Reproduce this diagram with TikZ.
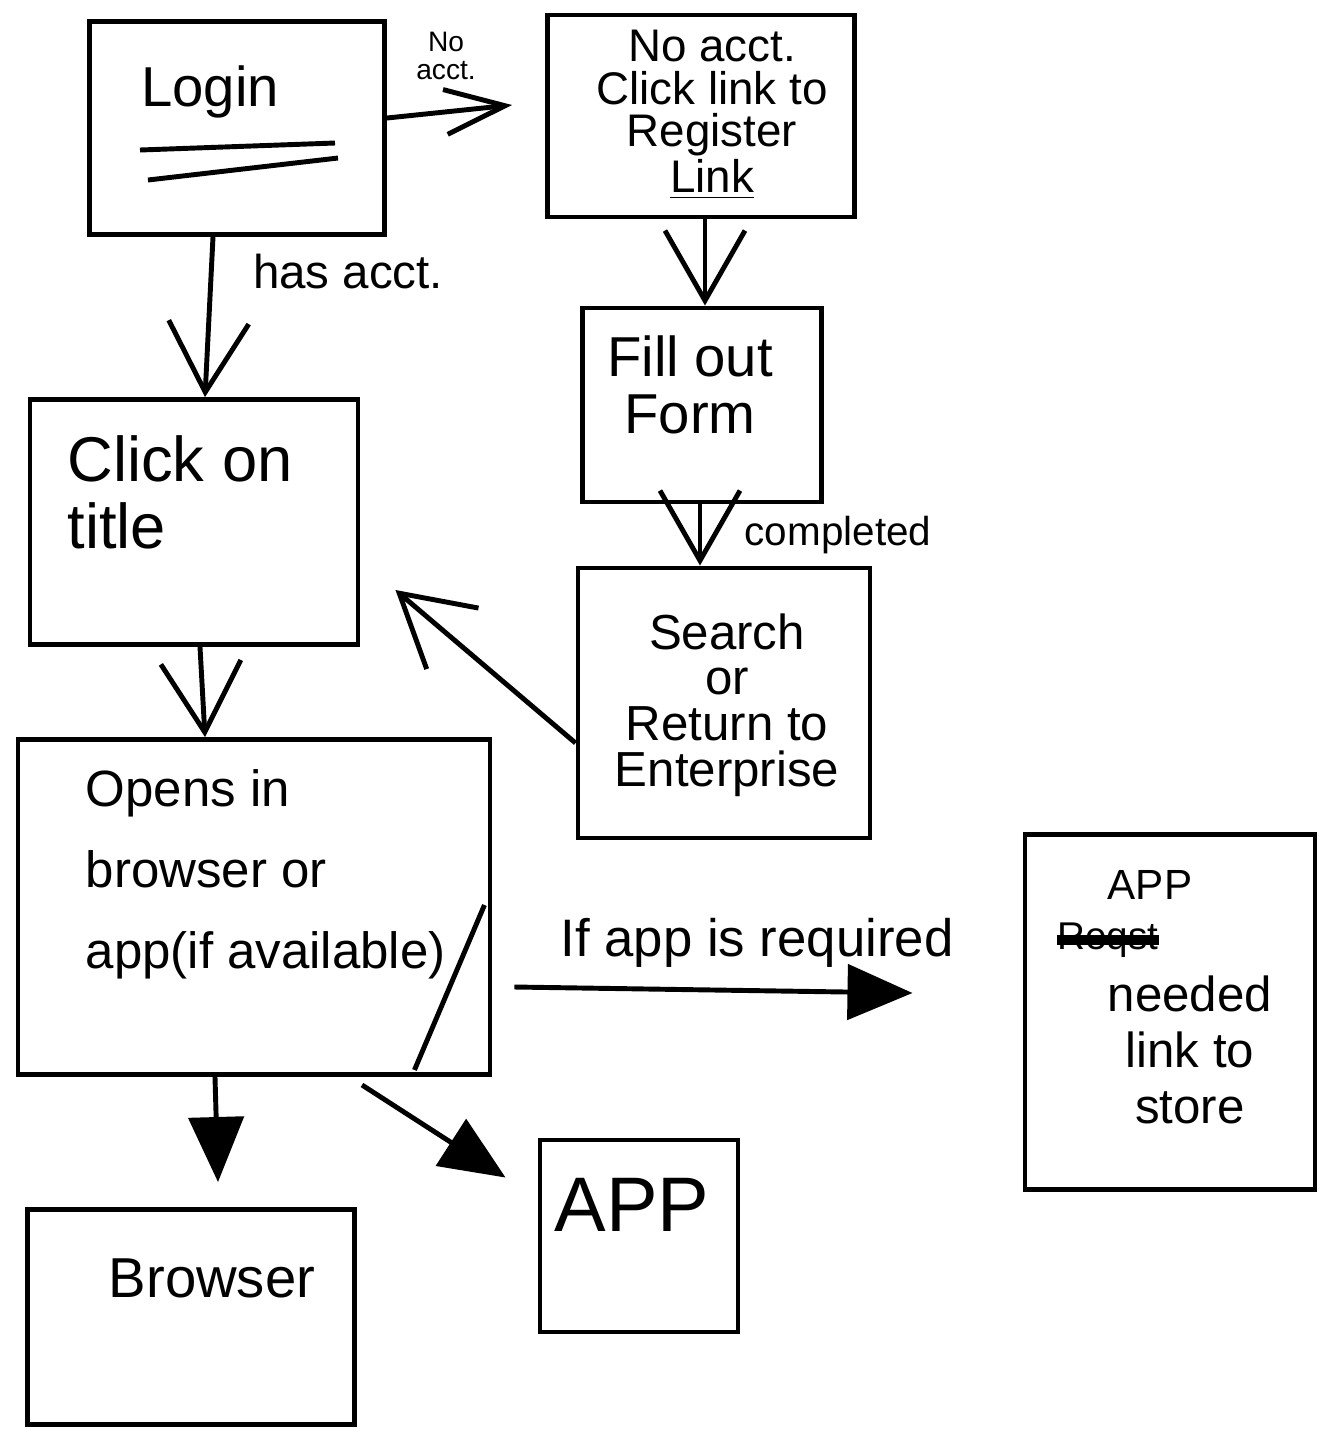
\documentclass[tikz,border=0pt]{standalone}
\usepackage{fontspec}
\setmainfont{Liberation Sans}
\usetikzlibrary{arrows.meta,calc}
\newcommand{\pxsize}{0.01cm}
\newcommand{\sketchbox}[5]{
	\node[box, minimum width=#4*\pxsize, minimum height=#5*\pxsize] (#1) at (#2,#3) {};
}

\begin{document}
\begin{tikzpicture}[x=\pxsize,y=-\pxsize,
	box/.style={draw, line width=1.4pt, inner sep=0pt},
	pen/.style={line width=1.4pt},
	vee/.style={pen, -{Straight Barb[length=7mm,width=8mm]}},
	smallvee/.style={pen, -{Straight Barb[length=6mm,width=4.5mm]}},
	solidhead/.style={pen, -{Triangle[length=6.5mm,width=5.5mm]}},
	txt/.style={inner sep=0pt, align=center}]
	\useasboundingbox (0,0) rectangle (1326,1429);

	\sketchbox{login}{237}{128}{295}{213}
	\sketchbox{register}{701}{116}{307}{202}
	\sketchbox{form}{702}{405}{239}{194}
	\sketchbox{search}{724}{703}{292}{270}
	\sketchbox{title}{194}{522}{328}{245}
	\sketchbox{opens}{254}{907}{472}{335}
	\sketchbox{appneed}{1170}{1012}{290}{355}
	\sketchbox{app}{639}{1236}{198}{192}
	\sketchbox{browser}{191}{1317}{327}{215}

	\node[txt, font=\fontsize{16}{19}\selectfont] (logintext) at (210,92) {Login};
	\draw[pen] (140,150) -- (335,143);
	\draw[pen] (148,180) -- (338,158);

	\node[txt, font=\fontsize{13}{12}\selectfont] (registertext) at (712,115) {No acct.\\Click link to\\Register\\\underline{Link}};
	\node[txt, font=\fontsize{16}{16}\selectfont] (formtext) at (690,385) {Fill out\\Form};
	\node[txt, font=\fontsize{14}{13}\selectfont] (searchtext) at (727,705) {Search\\or\\Return to\\Enterprise};
	\node[txt, align=left, font=\fontsize{18}{19}\selectfont] (titletext) at (180,492) {Click on\\title};
	\node[txt, align=left, anchor=west, font=\fontsize{14.5}{23}\selectfont] (openstext) at (85,874) {Opens in\\browser or\\app(if available)};
	\draw[pen] ($(opens.east)+(-8,-2)$) -- ($(opens.south east)+(-78,-7)$);

	\node[txt, font=\fontsize{12}{14}\selectfont] (appword) at (1150,885) {APP};
	\node[txt, font=\fontsize{11}{13}\selectfont] (struckword) at (1108,940) {Reqst};
	\draw[line width=3pt] (struckword.west) -- (struckword.east);
	\node[txt, font=\fontsize{14}{16}\selectfont] (storetext) at (1190,1050) {needed\\link to\\store};
	\node[txt, font=\fontsize{22}{24}\selectfont] (apptext) at (632,1205) {APP};
	\node[txt, font=\fontsize{16}{18}\selectfont] (browsertext) at (212,1278) {Browser};

	\draw[smallvee] ($(login.east)+(0,-10)$) -- ($(register.west)+(-33,-11)$);
	\node[txt, font=\fontsize{8}{8}\selectfont] (noacct) at (446,56) {No\\acct.};
	\draw[vee] ($(login.south)+(-24,0)$) -- ($(title.north)+(11,0)$);
	\node[txt, font=\fontsize{13.5}{14}\selectfont] (hasacct) at (348,272) {has acct.};
	\draw[vee] ($(register.south)+(4,0)$) -- ($(form.north)+(3,0)$);
	\draw[vee] ($(form.south)+(-2,0)$) -- ($(search.north)+(-24,0)$);
	\node[txt, font=\fontsize{11.5}{12}\selectfont] (completed) at (838,535) {completed};
	\draw[vee] ($(search.west)+(0,40)$) -- ($(title.east)+(35,68)$);
	\draw[vee] ($(title.south)+(6,0)$) -- ($(opens.north)+(-49,0)$);
	\draw[solidhead] ($(opens.east)+(22,80)$) -- ($(appneed.west)+(-110,-19)$);
	\node[txt, font=\fontsize{15}{16}\selectfont] (ifapp) at (757,943) {If app is required};
	\draw[solidhead] ($(opens.south)+(-39,0)$) -- ($(browser.north)+(27,-25)$);
	\draw[solidhead] ($(opens.south)+(108,8)$) -- ($(app.north west)+(-32,40)$);
\end{tikzpicture}
\end{document}
